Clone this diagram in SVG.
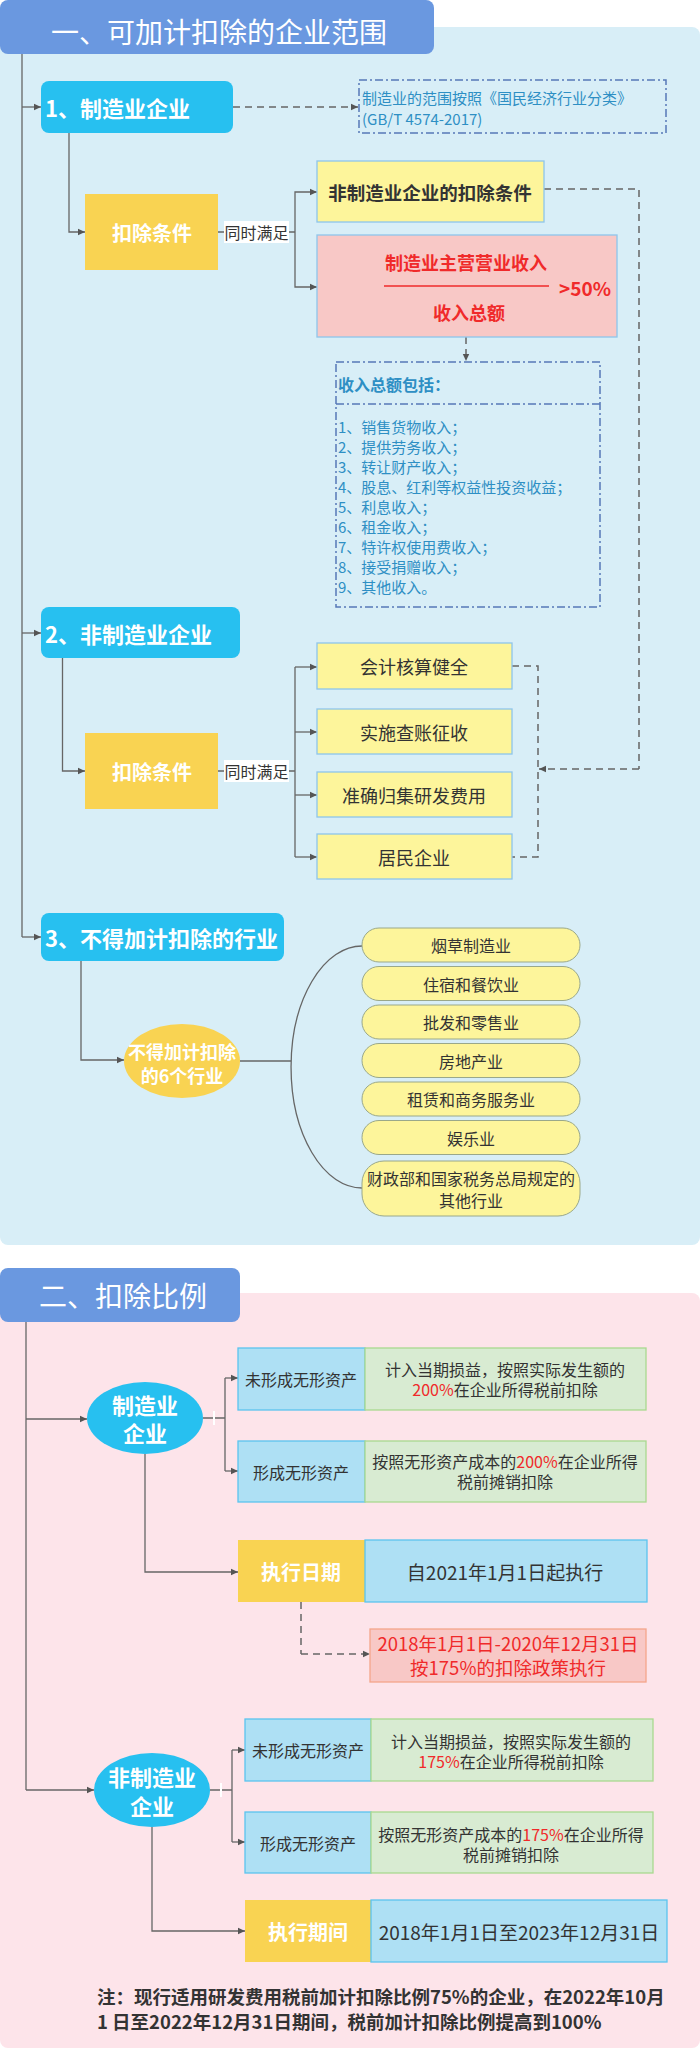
<svg xmlns="http://www.w3.org/2000/svg" width="700" height="2049" viewBox="0 0 700 2049">
<defs>
<marker id="arr" markerWidth="8" markerHeight="8" refX="7" refY="4" orient="auto" markerUnits="userSpaceOnUse">
<path d="M0,0.8 L7,4 L0,7.2 Z" fill="#555"/>
</marker>
<style>
text{font-family:"Noto Sans CJK SC","Noto Sans",sans-serif;dominant-baseline:central}
.c{text-anchor:middle}
.ln{fill:none;stroke:#666;stroke-width:1.3}
.ar{marker-end:url(#arr)}
.dash{fill:none;stroke:#666;stroke-width:1.5;stroke-dasharray:7,5}
.dd{fill:none;stroke:#5578b8;stroke-width:1.5;stroke-dasharray:8,3,2,3}
.title{fill:#6a98e0}
.tt{fill:#fff;font-size:28px}
.blue{fill:#27c0f0}
.bt{fill:#fff;font-size:22px;font-weight:700}
.yel{fill:#f9d352}
.yt{fill:#fff;font-size:20px;font-weight:700}
.ly{fill:#fdf59b;stroke:#8ec5ec;stroke-width:1.3}
.pink{fill:#f8c8c6;stroke:#8ec5ec;stroke-width:1.3}
.pill{fill:#fdf59b;stroke:#9aa88a;stroke-width:1}
.dk{fill:#333}
.sky{fill:#aee0f4;stroke:#5bc4ef;stroke-width:1.3}
.grn{fill:#d8ebd2;stroke:#a9d98f;stroke-width:1.3}
.red{fill:#f02a2a}
.bl{fill:#2e8fc4;font-size:15px}
</style>
</defs>

<!-- panels -->
<rect x="0" y="27" width="700" height="1218" rx="8" fill="#d8eef7"/>
<rect x="0" y="1293" width="700" height="755" rx="8" fill="#fde4ea"/>

<!-- connectors -->
<g id="connectors">
<path class="ln" d="M22,54 V937"/>
<path class="ln ar" d="M22,107 H41"/>
<path class="dash ar" d="M233,107 H358"/>
<path class="ln ar" d="M69,133 V232 H85"/>
<path class="ln" d="M218,232 H295"/>
<path class="ln ar" d="M295,232 V192 H317"/>
<path class="ln ar" d="M295,232 V287 H317"/>
<path class="dash" d="M544,189 H639 V769"/>
<path class="dash ar" d="M639,769 H539"/>
<path class="dash ar" d="M466,337 V361"/>
<path class="ln ar" d="M22,633 H41"/>
<path class="ln ar" d="M62.5,658 V771 H85"/>
<path class="ln" d="M218,771 H295 M295,667 V857"/>
<path class="ln ar" d="M295,667 H317"/>
<path class="ln ar" d="M295,732 H317"/>
<path class="ln ar" d="M295,795 H317"/>
<path class="ln ar" d="M295,857 H317"/>
<path class="dash" d="M512,666 H538 V857 H512"/>
<path class="ln ar" d="M22,937 H41"/>
<path class="ln ar" d="M81,961 V1060 H124"/>
<path class="ln" d="M240,1061 H291"/>
<path class="ln" d="M362,946 A71,121 0 0 0 362,1188"/>

<path class="ln" d="M26,1322 V1790"/>
<path class="ln ar" d="M26,1419 H87"/>
<path class="ln" d="M203,1418 H225 M225,1378 V1471"/>
<path d="M214,1411 V1425" stroke="#fff" stroke-width="2"/>
<path class="ln ar" d="M225,1378 H238"/>
<path class="ln ar" d="M225,1471 H238"/>
<path class="ln ar" d="M145,1454 V1572 H238"/>
<path class="dash" d="M301,1602 V1654"/>
<path class="dash ar" d="M301,1654 H370"/>
<path class="ln ar" d="M26,1790 H94"/>
<path class="ln" d="M210,1790 H232 M232,1750 V1842"/>
<path d="M221,1783 V1797" stroke="#fff" stroke-width="2"/>
<path class="ln ar" d="M232,1750 H245"/>
<path class="ln ar" d="M232,1842 H245"/>
<path class="ln ar" d="M152,1827 V1931 H245"/>
</g>

<!-- section 1 -->
<g id="title1">
<rect class="title" x="0" y="0" width="434" height="54" rx="8"/>
<text class="tt" x="51" y="31">一、可加计扣除的企业范围</text>
</g>
<g id="n1">
<rect class="blue" x="41" y="81" width="192" height="52" rx="8"/>
<text class="bt" x="45" y="107">1、制造业企业</text>
</g>
<g id="scope">
<rect class="dd" x="359" y="80" width="307" height="53"/>
<text class="bl" x="362" y="97">制造业的范围按照《国民经济行业分类》</text>
<text class="bl" x="362" y="118">(GB/T 4574-2017)</text>
</g>
<g id="cond1">
<rect class="yel" x="85" y="194" width="133" height="76"/>
<text class="yt c" x="152" y="232">扣除条件</text>
</g>
<g id="lab1">
<rect x="224" y="221" width="65" height="22" fill="#fff"/>
<text class="dk" x="256.5" y="232" font-size="16" text-anchor="middle">同时满足</text>
</g>
<g id="nonmfg-cond">
<rect class="ly" x="317" y="161" width="227" height="61"/>
<text class="c" x="430" y="192" font-size="18.5" font-weight="700" fill="#333">非制造业企业的扣除条件</text>
</g>
<g id="ratio">
<rect class="pink" x="317" y="235" width="300" height="102"/>
<text class="c red" x="466" y="262" font-size="18" font-weight="700">制造业主营营业收入</text>
<path d="M384,286 H549" stroke="#f02a2a" stroke-width="1.5"/>
<text class="red" x="559" y="287" font-size="19" font-weight="700">&gt;50%</text>
<text class="c red" x="469" y="312" font-size="18" font-weight="700">收入总额</text>
</g>
<g id="income">
<rect class="dd" x="336" y="362" width="264" height="245"/>
<path class="dd" d="M336,404 H600"/>
<text x="338" y="384" font-size="16" font-weight="700" fill="#2e8fc4">收入总额包括：</text>
<text class="bl" x="338" y="426">1、销售货物收入；</text>
<text class="bl" x="338" y="446">2、提供劳务收入；</text>
<text class="bl" x="338" y="466">3、转让财产收入；</text>
<text class="bl" x="338" y="486">4、股息、红利等权益性投资收益；</text>
<text class="bl" x="338" y="506">5、利息收入；</text>
<text class="bl" x="338" y="526">6、租金收入；</text>
<text class="bl" x="338" y="546">7、特许权使用费收入；</text>
<text class="bl" x="338" y="566">8、接受捐赠收入；</text>
<text class="bl" x="338" y="586">9、其他收入。</text>
</g>

<g id="n2">
<rect class="blue" x="41" y="607" width="199" height="51" rx="8"/>
<text class="bt" x="45" y="633">2、非制造业企业</text>
</g>
<g id="cond2">
<rect class="yel" x="85" y="733" width="133" height="76"/>
<text class="yt c" x="152" y="771">扣除条件</text>
</g>
<g id="lab2">
<rect x="224" y="760" width="65" height="22" fill="#fff"/>
<text class="dk" x="256.5" y="771" font-size="16" text-anchor="middle">同时满足</text>
</g>
<g id="c1"><rect class="ly" x="317" y="643" width="195" height="46"/><text class="c dk" x="414" y="666" font-size="18">会计核算健全</text></g>
<g id="c2"><rect class="ly" x="317" y="709" width="195" height="45"/><text class="c dk" x="414" y="732" font-size="18">实施查账征收</text></g>
<g id="c3"><rect class="ly" x="317" y="772" width="195" height="45"/><text class="c dk" x="414" y="795" font-size="18">准确归集研发费用</text></g>
<g id="c4"><rect class="ly" x="317" y="834" width="195" height="45"/><text class="c dk" x="414" y="857" font-size="18">居民企业</text></g>

<g id="n3">
<rect class="blue" x="41" y="913" width="243" height="48" rx="8"/>
<text class="bt" x="45" y="937">3、不得加计扣除的行业</text>
</g>
<g id="six">
<ellipse class="yel" cx="182" cy="1061" rx="58" ry="37"/>
<text class="c" x="182" y="1051" font-size="18" font-weight="700" fill="#fff">不得加计扣除</text>
<text class="c" x="182" y="1075" font-size="18" font-weight="700" fill="#fff">的6个行业</text>
</g>
<g id="p1"><rect class="pill" x="362" y="928" width="218" height="34" rx="17"/><text class="c dk" x="471" y="945" font-size="16">烟草制造业</text></g>
<g id="p2"><rect class="pill" x="362" y="966.5" width="218" height="34" rx="17"/><text class="c dk" x="471" y="983.5" font-size="16">住宿和餐饮业</text></g>
<g id="p3"><rect class="pill" x="362" y="1005" width="218" height="34" rx="17"/><text class="c dk" x="471" y="1022" font-size="16">批发和零售业</text></g>
<g id="p4"><rect class="pill" x="362" y="1043.5" width="218" height="34" rx="17"/><text class="c dk" x="471" y="1060.5" font-size="16">房地产业</text></g>
<g id="p5"><rect class="pill" x="362" y="1082" width="218" height="34" rx="17"/><text class="c dk" x="471" y="1099" font-size="16">租赁和商务服务业</text></g>
<g id="p6"><rect class="pill" x="362" y="1120.5" width="218" height="34" rx="17"/><text class="c dk" x="471" y="1137.5" font-size="16">娱乐业</text></g>
<g id="p7"><rect class="pill" x="362" y="1161" width="218" height="55" rx="22"/><text class="c dk" x="471" y="1178" font-size="16">财政部和国家税务总局规定的</text><text class="c dk" x="471" y="1200" font-size="16">其他行业</text></g>

<!-- section 2 -->
<g id="title2">
<rect class="title" x="0" y="1268" width="240" height="54" rx="8"/>
<text class="tt" x="39" y="1295">二、扣除比例</text>
</g>
<g id="mfg">
<ellipse class="blue" cx="145" cy="1418" rx="58" ry="36"/>
<text class="c" x="145" y="1404" font-size="22" font-weight="700" fill="#fff">制造业</text>
<text class="c" x="145" y="1432" font-size="22" font-weight="700" fill="#fff">企业</text>
</g>
<g id="m1">
<rect class="sky" x="238" y="1348" width="127" height="62"/>
<text class="c dk" x="301" y="1379" font-size="16">未形成无形资产</text>
<rect class="grn" x="365" y="1348" width="281" height="62"/>
<text class="c dk" x="505" y="1369" font-size="16">计入当期损益，按照实际发生额的</text>
<text class="c dk" x="505" y="1389" font-size="16"><tspan class="red">200%</tspan>在企业所得税前扣除</text>
</g>
<g id="m2">
<rect class="sky" x="238" y="1441" width="127" height="61"/>
<text class="c dk" x="301" y="1472" font-size="16">形成无形资产</text>
<rect class="grn" x="365" y="1441" width="281" height="61"/>
<text class="c dk" x="505" y="1461" font-size="16">按照无形资产成本的<tspan class="red">200%</tspan>在企业所得</text>
<text class="c dk" x="505" y="1481" font-size="16">税前摊销扣除</text>
</g>
<g id="m3">
<rect class="yel" x="238" y="1540" width="127" height="62"/>
<text class="yt c" x="301" y="1571" font-size="18.5">执行日期</text>
<rect class="sky" x="365" y="1540" width="282" height="62"/>
<text class="c dk" x="505" y="1571" font-size="19">自2021年1月1日起执行</text>
</g>
<g id="m4">
<rect x="370" y="1629" width="276" height="53" fill="#f8c8c6" stroke="#f4a58a" stroke-width="1.3"/>
<text class="c red" x="508" y="1643" font-size="18.5">2018年1月1日-2020年12月31日</text>
<text class="c red" x="508" y="1667" font-size="18.5">按175%的扣除政策执行</text>
</g>
<g id="nonmfg">
<ellipse class="blue" cx="152" cy="1790" rx="58" ry="37"/>
<text class="c" x="152" y="1776" font-size="22" font-weight="700" fill="#fff">非制造业</text>
<text class="c" x="152" y="1805" font-size="22" font-weight="700" fill="#fff">企业</text>
</g>
<g id="k1">
<rect class="sky" x="245" y="1719" width="126" height="62"/>
<text class="c dk" x="308" y="1750" font-size="16">未形成无形资产</text>
<rect class="grn" x="371" y="1719" width="282" height="62"/>
<text class="c dk" x="511" y="1741" font-size="16">计入当期损益，按照实际发生额的</text>
<text class="c dk" x="511" y="1761" font-size="16"><tspan class="red">175%</tspan>在企业所得税前扣除</text>
</g>
<g id="k2">
<rect class="sky" x="245" y="1812" width="126" height="61"/>
<text class="c dk" x="308" y="1843" font-size="16">形成无形资产</text>
<rect class="grn" x="371" y="1812" width="282" height="61"/>
<text class="c dk" x="511" y="1834" font-size="16">按照无形资产成本的<tspan class="red">175%</tspan>在企业所得</text>
<text class="c dk" x="511" y="1854" font-size="16">税前摊销扣除</text>
</g>
<g id="k3">
<rect class="yel" x="245" y="1900" width="126" height="62"/>
<text class="yt c" x="308" y="1931" font-size="18.5">执行期间</text>
<rect class="sky" x="371" y="1900" width="296" height="62"/>
<text class="c dk" x="519" y="1931" font-size="19">2018年1月1日至2023年12月31日</text>
</g>
<g id="note">
<text x="97" y="1996" font-size="18.5" font-weight="700" fill="#333">注：现行适用研发费用税前加计扣除比例75%的企业，在2022年10月</text>
<text x="97" y="2021" font-size="18.5" font-weight="700" fill="#333">1 日至2022年12月31日期间，税前加计扣除比例提高到100%</text>
</g>
</svg>
